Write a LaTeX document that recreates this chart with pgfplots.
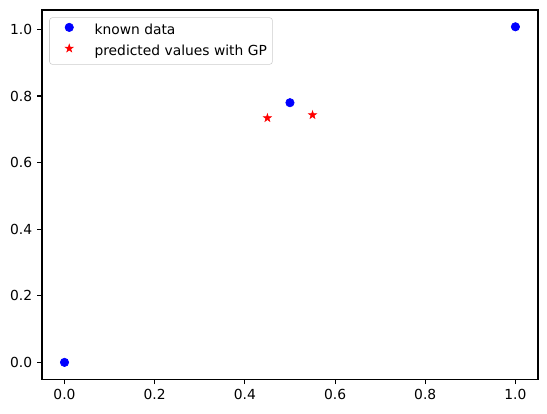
\documentclass[border=0pt]{standalone}
\usepackage{fontspec}
\setmainfont{DejaVu Sans}
\usepackage{pgfplots}
\pgfplotsset{compat=1.18}
\pgfdeclareplotmark{fstar}{%
  \pgfpathmoveto{\pgfpointpolar{90}{\pgfplotmarksize}}%
  \pgfpathlineto{\pgfpointpolar{126}{0.382\pgfplotmarksize}}%
  \pgfpathlineto{\pgfpointpolar{162}{\pgfplotmarksize}}%
  \pgfpathlineto{\pgfpointpolar{198}{0.382\pgfplotmarksize}}%
  \pgfpathlineto{\pgfpointpolar{234}{\pgfplotmarksize}}%
  \pgfpathlineto{\pgfpointpolar{270}{0.382\pgfplotmarksize}}%
  \pgfpathlineto{\pgfpointpolar{306}{\pgfplotmarksize}}%
  \pgfpathlineto{\pgfpointpolar{342}{0.382\pgfplotmarksize}}%
  \pgfpathlineto{\pgfpointpolar{18}{\pgfplotmarksize}}%
  \pgfpathlineto{\pgfpointpolar{54}{0.382\pgfplotmarksize}}%
  \pgfpathclose
  \pgfusepathqfillstroke
}
\begin{document}
\begin{tikzpicture}
\begin{axis}[
  name=ax,
  scale only axis,
  width=357bp, height=265.7bp,
  xmin=-0.05, xmax=1.05,
  ymin=-0.0504, ymax=1.0584,
  xtick={0,0.2,0.4,0.6,0.8,1.0},
  ytick={0,0.2,0.4,0.6,0.8,1.0},
  /pgf/number format/assume math mode=true,
  /pgf/number format/.cd, fixed, fixed zerofill, precision=1, /pgfplots/.cd,
  tick label style={font=\fontsize{10}{12}\selectfont},
  tick align=outside,
  major tick length=3.5bp,
  tick style={black, line width=0.8bp},
  axis line style={line width=0.8bp},
  xtick pos=bottom, ytick pos=left,
  legend style={at={(0.0147,0.980)}, anchor=north west, draw=black!20, rounded corners=2bp,
    font=\fontsize{10}{12}\selectfont, row sep=4.7bp, column sep=8bp,
    inner xsep=4bp, inner ysep=4bp,
    nodes={inner xsep=0bp, inner ysep=0bp, text height=7.5bp, text depth=2.2bp}},
  legend cell align=left,
  legend image code/.code={\path (0bp,0bp) (20bp,0bp); \draw[#1] plot coordinates {(10bp,2.6bp)};},
]
\addplot[only marks, mark=*, mark size=3bp, color=blue, mark options={draw=blue, fill=blue, line width=0.5bp}]
  coordinates {(0,0) (0.5,0.780) (1.0,1.008)};
\addlegendentry{known data}
\addplot[only marks, mark=fstar, mark size=3.0bp, color=red, mark options={draw=red, fill=red, line width=0.4bp}]
  coordinates {(0.45,0.734) (0.55,0.743)};
\addlegendentry{predicted values with GP}
\end{axis}
\path ([xshift=-30.2bp, yshift=-24.5bp]ax.south west) rectangle ([xshift=6.5bp, yshift=7.2bp]ax.north east);
\end{tikzpicture}
\end{document}
